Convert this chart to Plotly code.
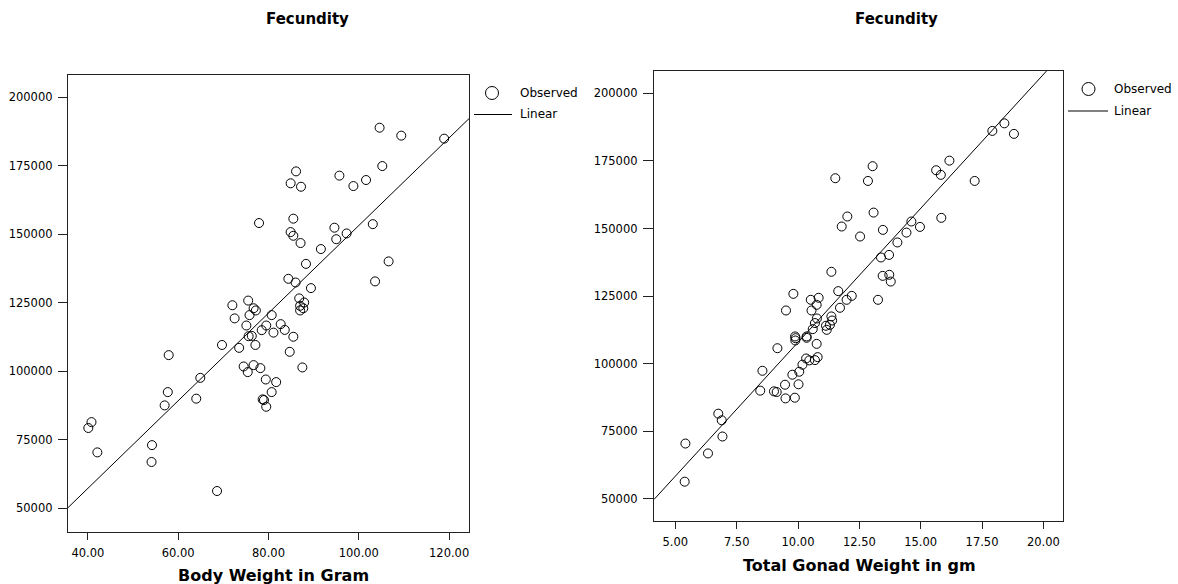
import numpy as np
import plotly.graph_objects as go

# ---------------- data ----------------
body_weight = [104.6, 109.4, 118.9, 86.1, 105.2, 95.7, 84.9, 87.2, 98.8, 101.6,
               77.9, 85.5, 84.9, 85.5, 87.1, 94.6, 95.0, 97.3, 103.1, 91.6,
               88.3, 106.6, 103.6, 84.4, 86.0, 89.4, 86.8, 87.9, 87.0, 87.7,
               87.0, 75.5, 72.0, 76.7, 77.2, 75.8, 72.5, 80.7, 75.1, 79.5,
               82.7, 78.5, 81.1, 83.6, 75.6, 76.3, 85.5, 69.7, 73.5, 77.1,
               84.7, 57.9, 64.9, 57.7, 57.0, 64.0, 74.5, 75.4, 76.7, 78.2,
               79.4, 81.7, 80.7, 78.7, 79.0, 79.5, 87.5, 40.8, 40.1, 42.1,
               54.2, 54.1, 68.6]
fecundity_left = [188800, 185900, 184800, 172850, 174800, 171300, 168500, 167250, 167500, 169700,
                  154000, 155600, 150700, 149350, 146700, 152300, 148100, 150200, 153600, 144500,
                  139100, 140000, 132700, 133650, 132300, 130250, 126500, 125000, 123800, 122900,
                  122100, 125700, 124000, 122900, 122100, 120400, 119200, 120400, 116600, 116600,
                  117100, 114900, 114000, 115000, 112700, 112800, 112500, 109500, 108450, 109500,
                  107000, 105800, 97500, 92300, 87450, 89900, 101650, 99600, 102150, 101050,
                  96900, 95950, 92300, 89650, 89400, 86950, 101300, 81350, 79200, 70300,
                  72950, 66800, 56200]

gonad_weight = [18.41, 17.92, 18.80, 16.17, 15.63, 15.82, 17.20, 13.04, 11.52, 12.85,
                13.08, 12.01, 11.78, 12.53, 13.46, 14.62, 14.97, 14.42, 14.05, 15.84,
                13.38, 13.71, 13.45, 13.72, 13.78, 11.36, 13.26, 9.81, 9.51, 11.64,
                12.19, 11.98, 11.71, 10.52, 10.84, 10.76, 10.55, 10.77, 11.36, 11.39,
                10.69, 11.30, 11.14, 11.17, 10.60, 9.88, 10.35, 9.90, 10.35, 9.89,
                10.76, 9.16, 8.55, 8.46, 10.33, 10.46, 10.69, 10.80, 10.18, 10.05,
                9.77, 10.02, 9.47, 9.02, 9.13, 9.49, 9.87, 6.75, 6.89, 6.92,
                5.41, 6.33, 5.38]
fecundity_right = [188900, 186100, 185000, 175100, 171550, 169850, 167600, 173050, 168600, 167600,
                   155900, 154450, 150750, 147050, 149500, 152600, 150600, 148500, 144850, 153950,
                   139300, 140250, 132500, 132900, 130400, 134000, 123650, 125850, 119700, 126850,
                   125100, 123650, 120700, 123650, 124400, 121800, 119700, 116750, 117500, 116000,
                   115050, 114400, 114050, 112550, 112800, 110100, 110100, 109450, 109600, 108600,
                   107350, 105750, 97400, 90050, 101950, 101250, 101350, 102450, 99650, 97050,
                   95950, 92400, 92250, 89800, 89550, 87200, 87450, 81550, 79100, 73100,
                   70500, 66850, 56400]

left_xticks = [40, 60, 80, 100, 120]
right_xticks = [5.0, 7.5, 10.0, 12.5, 15.0, 17.5, 20.0]
yticks = [50000, 75000, 100000, 125000, 150000, 175000, 200000]

left_title = "Fecundity"
right_title = "Fecundity"
left_xlabel = "Body Weight in Gram"
right_xlabel = "Total Gonad Weight in gm"

# ---------------- layout constants ----------------
W, H = 1178, 584
left_xrange = [35.6, 124.4]
left_yrange = [41240, 208030]
right_xrange = [4.13, 20.80]
right_yrange = [41860, 208360]


def px_x(p):
    return p / W


def px_y(p):
    return 1 - p / H


tick_font = dict(family="DejaVu Sans", size=11.5, color="black")
frame_color = "#222222"

fig = go.Figure()

# scatter + fitted line, left
b1, a1 = np.polyfit(body_weight, fecundity_left, 1)
xl = np.array(left_xrange)
fig.add_trace(go.Scatter(x=body_weight, y=fecundity_left, mode="markers",
                         marker=dict(symbol="circle-open", size=9, color="black",
                                     line=dict(width=1, color="black")),
                         xaxis="x", yaxis="y", showlegend=False, name="Observed"))
fig.add_trace(go.Scatter(x=xl, y=a1 + b1 * xl, mode="lines",
                         line=dict(color="black", width=1),
                         xaxis="x", yaxis="y", showlegend=False, name="Linear"))

# scatter + fitted line, right
b2, a2 = np.polyfit(gonad_weight, fecundity_right, 1)
xr = np.array(right_xrange)
fig.add_trace(go.Scatter(x=gonad_weight, y=fecundity_right, mode="markers",
                         marker=dict(symbol="circle-open", size=9, color="black",
                                     line=dict(width=1, color="black")),
                         xaxis="x2", yaxis="y2", showlegend=False, name="Observed"))
fig.add_trace(go.Scatter(x=xr, y=a2 + b2 * xr, mode="lines",
                         line=dict(color="black", width=1),
                         xaxis="x2", yaxis="y2", showlegend=False, name="Linear"))

axis_common = dict(showgrid=False, zeroline=False, showline=True, mirror=True,
                   linecolor=frame_color, linewidth=1.3, ticks="outside",
                   tickcolor=frame_color, tickfont=tick_font)

fig.update_layout(
    width=W, height=H,
    margin=dict(l=0, r=0, t=0, b=0),
    paper_bgcolor="white", plot_bgcolor="white",
    showlegend=False,
    xaxis=dict(domain=[px_x(68), px_x(469)], range=left_xrange, anchor="y",
               tickvals=left_xticks, tickformat=".2f", ticklen=7,
               ticklabelstandoff=3, **axis_common),
    yaxis=dict(domain=[px_y(532), px_y(75)], range=left_yrange, anchor="x",
               tickvals=yticks, tickformat="d", ticklen=9,
               ticklabelstandoff=3, **axis_common),
    xaxis2=dict(domain=[px_x(654), px_x(1063)], range=right_xrange, anchor="y2",
                tickvals=right_xticks, tickformat=".2f", ticklen=7,
                ticklabelstandoff=3, **axis_common),
    yaxis2=dict(domain=[px_y(521), px_y(70.7)], range=right_yrange, anchor="x2",
                tickvals=yticks, tickformat="d", ticklen=10,
                ticklabelstandoff=3, **axis_common),
)

title_font = dict(family="DejaVu Sans", size=15, color="black")
label_font = dict(family="DejaVu Sans", size=16, color="black")
ann = [
    dict(text="<b>%s</b>" % left_title, x=px_x(307), y=px_y(19), font=title_font),
    dict(text="<b>%s</b>" % right_title, x=px_x(896), y=px_y(19), font=title_font),
    dict(text="<b>%s</b>" % left_xlabel, x=px_x(273), y=px_y(575), font=label_font),
    dict(text="<b>%s</b>" % right_xlabel, x=px_x(859), y=px_y(565), font=label_font),
]
for a in ann:
    a.update(xref="paper", yref="paper", showarrow=False, xanchor="center", yanchor="middle")

# manual legends
legend_font = dict(family="DejaVu Sans", size=12, color="black")
shapes = []
for (cx, cy, tx, lx0, lx1, ly) in [(492, 93, 518, 474, 512, 114.5),
                                   (1088.5, 89, 1112, 1068, 1108, 111)]:
    r = 6.5
    shapes.append(dict(type="circle", xref="paper", yref="paper",
                       x0=px_x(cx - r), x1=px_x(cx + r), y0=px_y(cy + r), y1=px_y(cy - r),
                       line=dict(color="black", width=1)))
    shapes.append(dict(type="line", xref="paper", yref="paper",
                       x0=px_x(lx0), x1=px_x(lx1), y0=px_y(ly), y1=px_y(ly),
                       line=dict(color="black", width=1)))
    ann.append(dict(text="Observed", x=px_x(tx), y=px_y(cy), xref="paper", yref="paper",
                    showarrow=False, xanchor="left", yanchor="middle", font=legend_font))
    ann.append(dict(text="Linear", x=px_x(tx), y=px_y(ly), xref="paper", yref="paper",
                    showarrow=False, xanchor="left", yanchor="middle", font=legend_font))

fig.update_layout(annotations=ann, shapes=shapes)
fig.write_html("out.html")
